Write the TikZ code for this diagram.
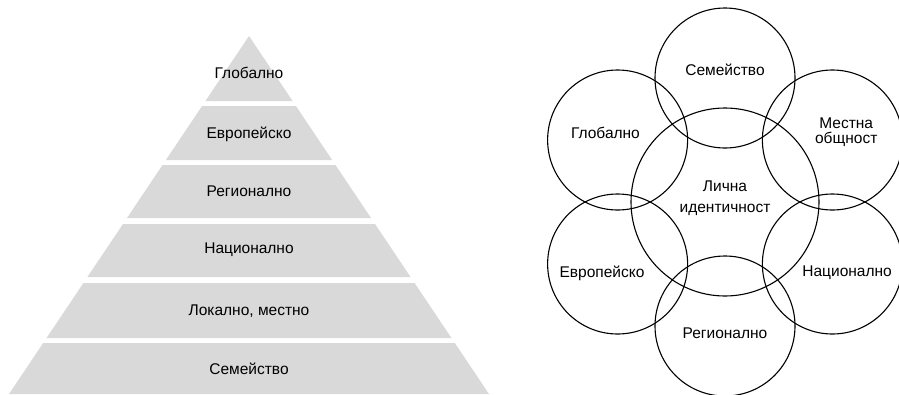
\documentclass[tikz,border=0pt]{standalone}
\usepackage{fontspec}
\setmainfont{Liberation Sans}
\usepackage{tikz}
\usetikzlibrary{calc}
\definecolor{bandgray}{HTML}{D9D9D9}

\begin{document}
\begin{tikzpicture}[x=1pt,y=-1pt]
		\tikzset{band/.style = {fill=bandgray,draw=none}}
		\tikzset{level/.style = {font=\fontsize{15.5}{17}\selectfont,inner sep=0pt}}
		\tikzset{ring/.style = {shape=circle,draw,line width=1.1pt,minimum size=140pt,inner sep=0pt}}
		\tikzset{tag/.style = {font=\fontsize{15.5}{15}\selectfont,align=center,inner sep=0pt}}
		\useasboundingbox (0,0) rectangle (899,394);
			% pyramid, top to bottom
			\foreach \t/\b/\ty/\txt [count=\i] in {36/101/73/Глобално, 106/160/134/Европейско,
				165/218/191/Регионално, 224/277/250/Национално,
				283/338/311/{Локално, местно}, 343/394/369/Семейство}
				{
				\fill[band] ({249-0.6704*(\t-36)},\t) -- ({249+0.6704*(\t-36)},\t)
					-- ({249+0.6704*(\b-36)},\b) -- ({249-0.6704*(\b-36)},\b) -- cycle;
				\node[level] (lvl\i) at (249,\ty) {\txt};
				}
			% circles round the person
			\node[ring,minimum size=188pt] (self) at (725,202) {};
			\node[tag,font=\fontsize{15.5}{20.5}\selectfont] (selftxt) at (725,198) {Лична\\идентичност};
			\foreach \a/\d/\txt [count=\i] in {-90/132/Семейство, -30/140/{Местна\\общност},
				30/141/Национално, 90/131/Регионално, 150/142/Европейско, 210/138/Глобално}
				{
				\node[ring] (c\i) at ([shift={(\a:124)}]self.center) {};
				\node[tag] (t\i) at ([shift={(\a:\d)}]self.center) {\txt};
				}
		\end{tikzpicture}
\end{document}
